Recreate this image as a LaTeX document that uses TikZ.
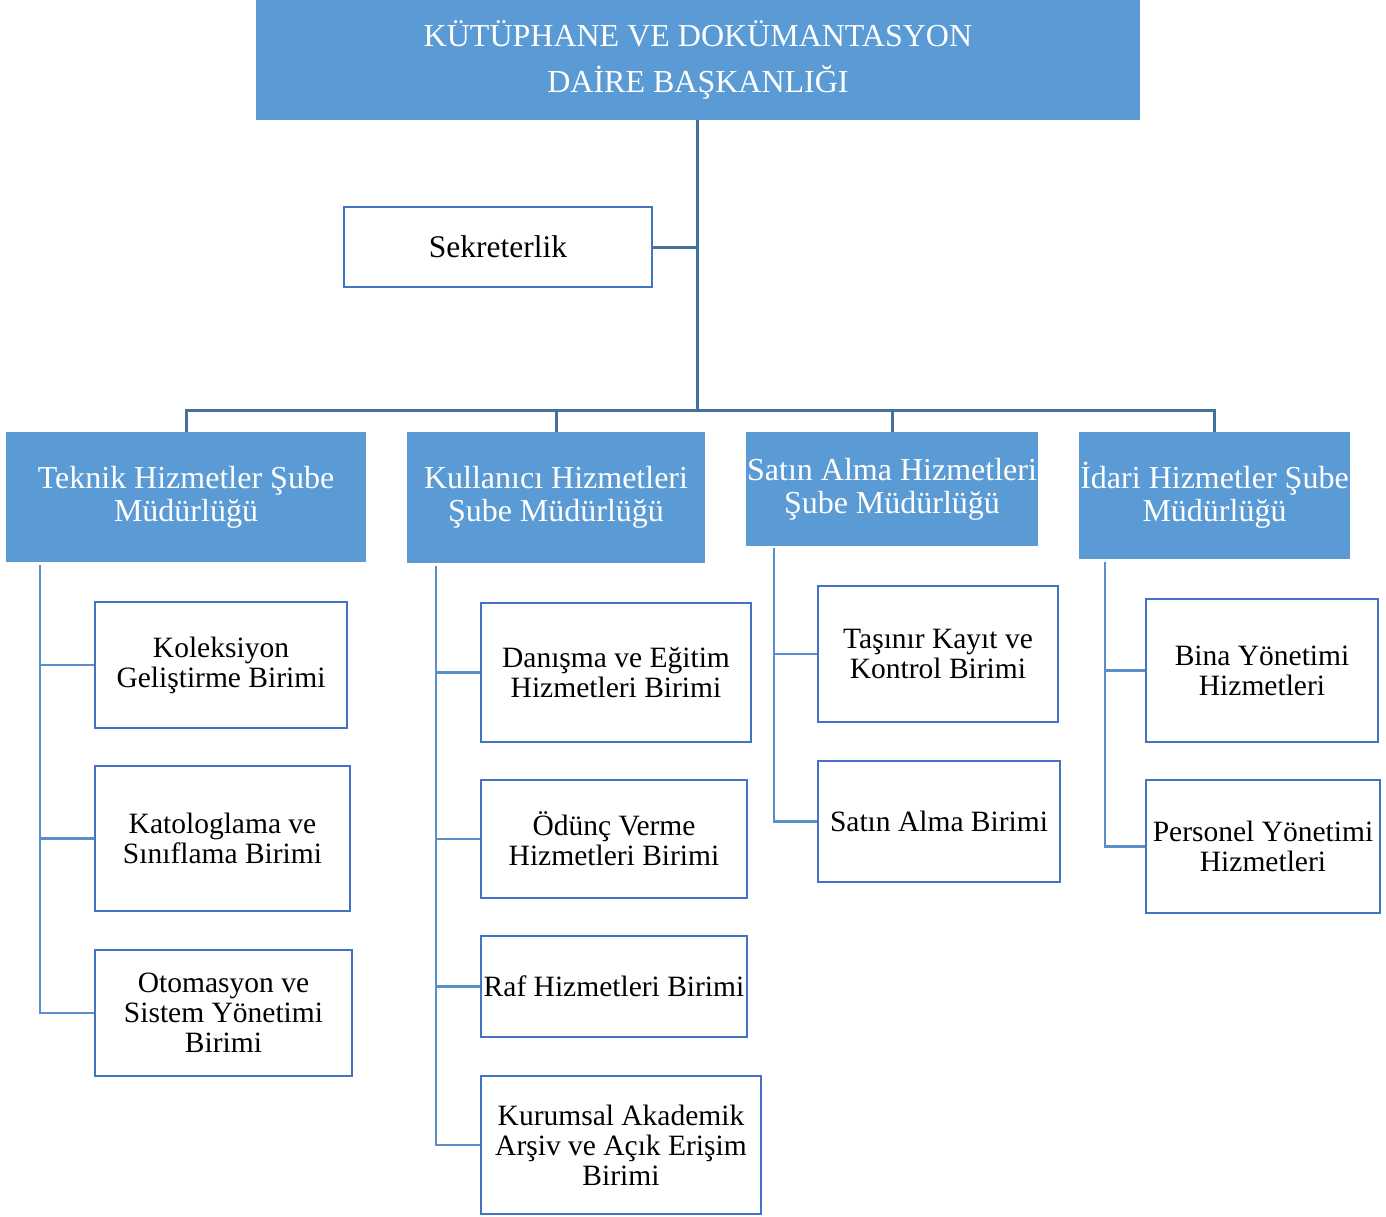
\documentclass[tikz,border=0pt]{standalone}
\usepackage{fontspec}
\setmainfont{Liberation Serif}
\definecolor{boxblue}{HTML}{5B9BD5}
\definecolor{edgeblue}{HTML}{4472C4}
\definecolor{busblue}{HTML}{41719C}
\definecolor{linkblue}{HTML}{5B8FCB}
\tikzset{
  headbox/.style={fill=boxblue, draw=none, text=white, align=center, inner sep=0pt,
    font=\fontsize{32}{46}\selectfont},
  bluebox/.style={fill=boxblue, draw=none, text=white, align=center, inner sep=0pt,
    font=\fontsize{32}{33}\selectfont},
  unitbox/.style={fill=white, draw=edgeblue, line width=2.5pt, text=black, align=center, inner sep=0pt,
    font=\fontsize{29.5}{30}\selectfont},
  busline/.style={draw=busblue, line width=3pt},
  link/.style={draw=linkblue, line width=2.5pt},
}
\begin{document}
\begin{tikzpicture}[x=1pt,y=-1pt]
\useasboundingbox[fill=white] (0,0) rectangle (1386,1216);
% top
\node[headbox, minimum width=884pt, minimum height=120pt] (top) at (698,60)
  {KÜTÜPHANE VE DOKÜMANTASYON\\DAİRE BAŞKANLIĞI};
\node[unitbox, minimum width=308pt, minimum height=80pt, font=\fontsize{31.5}{33}\selectfont] (sek) at (498,247) {Sekreterlik};
% branch heads
\node[bluebox, minimum width=360pt, minimum height=130pt] (t1) at (186,497) {Teknik Hizmetler Şube\\Müdürlüğü};
\node[bluebox, minimum width=298pt, minimum height=131pt] (t2) at (556,497.5) {Kullanıcı Hizmetleri\\Şube Müdürlüğü};
\node[bluebox, minimum width=292pt, minimum height=114pt] (t3) at (892,489) {Satın Alma Hizmetleri\\Şube Müdürlüğü};
\node[bluebox, minimum width=271pt, minimum height=127pt] (t4) at (1214.5,495.5) {İdari Hizmetler Şube\\Müdürlüğü};
% group 1
\node[unitbox, minimum width=252pt, minimum height=126pt] (c11) at (221,665) {Koleksiyon\\Geliştirme Birimi};
\node[unitbox, minimum width=255pt, minimum height=145pt] (c12) at (222.5,838.5) {Katologlama ve\\Sınıflama Birimi};
\node[unitbox, minimum width=257pt, minimum height=126pt] (c13) at (223.5,1013) {Otomasyon ve\\Sistem Yönetimi\\Birimi};
% group 2
\node[unitbox, minimum width=270pt, minimum height=139pt] (c21) at (616,672.5) {Danışma ve Eğitim\\Hizmetleri Birimi};
\node[unitbox, minimum width=266pt, minimum height=118pt] (c22) at (614,839) {Ödünç Verme\\Hizmetleri Birimi};
\node[unitbox, minimum width=266pt, minimum height=101pt] (c23) at (614,986.5) {Raf Hizmetleri Birimi};
\node[unitbox, minimum width=280pt, minimum height=138pt] (c24) at (621,1145) {Kurumsal Akademik\\Arşiv ve Açık Erişim\\Birimi};
% group 3
\node[unitbox, minimum width=240pt, minimum height=136pt] (c31) at (938,654) {Taşınır Kayıt ve\\Kontrol Birimi};
\node[unitbox, minimum width=242pt, minimum height=121pt] (c32) at (939,821.5) {Satın Alma Birimi};
% group 4
\node[unitbox, minimum width=232pt, minimum height=143pt] (c41) at (1262,670.5) {Bina Yönetimi\\Hizmetleri};
\node[unitbox, minimum width=234pt, minimum height=133pt] (c42) at (1263,846.5) {Personel Yönetimi\\Hizmetleri};
% junctions
\coordinate (j) at (697,410);
\coordinate (g1) at (40,565);
\coordinate (g2) at (436,566);
\coordinate (g3) at (774,548);
\coordinate (g4) at (1105,562);
% trunk and bus
\draw[busline] (top.south -| j) -- (j);
\draw[busline] (sek.east) -- (sek.east -| j);
\draw[busline] (t1.north) |- (t4.north |- j) -- (t4.north);
\draw[busline] (t2.north) -- (t2.north |- j);
\draw[busline] (t3.north) -- (t3.north |- j);
% group links
\draw[link] (g1) |- (c13.west);
\draw[link] (c11.west) -- (c11.west -| g1);
\draw[link] (c12.west) -- (c12.west -| g1);
\draw[link] (g2) |- (c24.west);
\draw[link] (c21.west) -- (c21.west -| g2);
\draw[link] (c22.west) -- (c22.west -| g2);
\draw[link] (c23.west) -- (c23.west -| g2);
\draw[link] (g3) |- (c32.west);
\draw[link] (c31.west) -- (c31.west -| g3);
\draw[link] (g4) |- (c42.west);
\draw[link] (c41.west) -- (c41.west -| g4);
\end{tikzpicture}
\end{document}
